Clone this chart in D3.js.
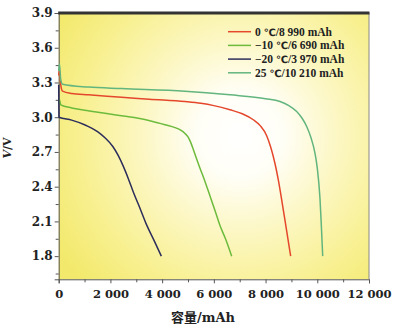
<!DOCTYPE html>
<html><head><meta charset="utf-8">
<script src="https://cdn.jsdelivr.net/npm/d3@7/dist/d3.min.js"></script>
<style>body{margin:0;background:#fff;}svg{display:block;}</style>
</head><body>
<script>
// ---- data ----
const xTickValues = [0, 2000, 4000, 6000, 8000, 10000, 12000];
const xTickLabels = ["0", "2 000", "4 000", "6 000", "8 000", "10 000", "12 000"];
const xMinorTicks = [1000, 3000, 5000, 7000, 9000, 11000];
const yTickValues = [1.8, 2.1, 2.4, 2.7, 3.0, 3.3, 3.6, 3.9];
const yTickLabels = ["1.8", "2.1", "2.4", "2.7", "3.0", "3.3", "3.6", "3.9"];
const yMinorTicks = [1.65, 1.95, 2.25, 2.55, 2.85, 3.15, 3.45, 3.75];
const seriesNames = ["0 ℃/8 990 mAh", "−10 ℃/6 690 mAh", "−20 ℃/3 970 mAh", "25 ℃/10 210 mAh"];
const seriesColors = ["#e4472c", "#6cbb3d", "#2d2d5c", "#62b57e"];
const cap0 = [0,3.36, 30,3.41, 80,3.28, 150,3.225, 500,3.205, 1145,3.193, 2436,3.173, 3500,3.155, 4884,3.135, 5500,3.12, 6000,3.10, 6625,3.064, 7100,3.03, 7525,2.978, 7800,2.925, 8043,2.84, 8200,2.74, 8364,2.60, 8500,2.45, 8650,2.25, 8800,2.04, 8971,1.80];
const capM10 = [0,3.12, 30,3.15, 80,3.107, 500,3.08, 1000,3.06, 1790,3.035, 2500,3.01, 3080,2.99, 3600,2.965, 4110,2.935, 4500,2.91, 4700,2.89, 4884,2.86, 5000,2.83, 5100,2.785, 5200,2.725, 5300,2.66, 5464,2.56, 5650,2.45, 5851,2.32, 6050,2.19, 6237,2.064, 6450,1.95, 6690,1.80];
const capM20 = [0,3.28, 10,3.0, 500,2.975, 1000,2.935, 1500,2.875, 1800,2.82, 2100,2.745, 2300,2.67, 2500,2.575, 2700,2.465, 2900,2.345, 3150,2.21, 3400,2.07, 3700,1.93, 3970,1.80];
const cap25 = [0,3.40, 30,3.46, 80,3.32, 150,3.285, 1145,3.26, 2436,3.247, 4884,3.225, 6625,3.193, 8000,3.16, 8560,3.135, 8900,3.10, 9203,3.05, 9400,2.995, 9590,2.92, 9760,2.82, 9910,2.69, 10000,2.56, 10104,2.30, 10160,2.05, 10210,1.80];
const seriesData = [cap0, capM10, capM20, cap25];

// ---- chart ----
const W = 404, H = 326;
const m = {l: 58.7, r: 35, t: 13, b: 46.7};
const svg = d3.select("body").append("svg").attr("width", W).attr("height", H);
const x = d3.scaleLinear().domain([0, 12000]).range([m.l, W - m.r]);
const y = d3.scaleLinear().domain([1.6, 3.9]).range([H - m.b, m.t]);

const defs = svg.append("defs");
const g = defs.append("radialGradient").attr("id", "bg").attr("gradientUnits", "userSpaceOnUse")
  .attr("cx", 240).attr("cy", 135).attr("r", 215);
[[0, "#ffffff"], [0.2, "#fffef6"], [0.45, "#fcf7c4"], [0.75, "#f8f090"], [1, "#f2e96c"]]
  .forEach(([o, c]) => g.append("stop").attr("offset", o).attr("stop-color", c));

svg.append("rect").attr("x", x(0)).attr("y", y(3.9)).attr("width", x(12000) - x(0))
  .attr("height", y(1.6) - y(3.9)).attr("fill", "url(#bg)");

const font = "'DejaVu Serif', serif";
// axes
const xAxis = d3.axisBottom(x).tickValues(xTickValues).tickFormat((d, i) => xTickLabels[i]).tickSize(4).tickPadding(7);
const xa = svg.append("g").attr("transform", `translate(0,${y(1.6)})`).call(xAxis);
xa.select(".domain").attr("stroke", "#555");
xa.selectAll(".tick line").attr("stroke", "#555");
xa.selectAll("text").attr("font-family", font).attr("font-weight", "bold").attr("font-size", 11.5).attr("fill", "#222");
const xm = svg.append("g").attr("transform", `translate(0,${y(1.6)})`)
  .call(d3.axisBottom(x).tickValues(xMinorTicks).tickFormat("").tickSize(3));
xm.select(".domain").remove();
xm.selectAll(".tick line").attr("stroke", "#555");

const yAxis = d3.axisLeft(y).tickValues(yTickValues).tickFormat((d, i) => yTickLabels[i]).tickSize(4).tickPadding(2);
const ya = svg.append("g").attr("transform", `translate(${x(0)},0)`).call(yAxis);
ya.select(".domain").attr("stroke", "#555");
ya.selectAll(".tick line").attr("stroke", "#555");
ya.selectAll("text").attr("font-family", font).attr("font-weight", "bold").attr("font-size", 12).attr("fill", "#222");
const ym = svg.append("g").attr("transform", `translate(${x(0)},0)`)
  .call(d3.axisLeft(y).tickValues(yMinorTicks).tickFormat("").tickSize(3));
ym.select(".domain").remove();
ym.selectAll(".tick line").attr("stroke", "#555");

// borders
svg.append("line").attr("x1", x(12000)).attr("x2", x(12000)).attr("y1", y(3.9)).attr("y2", y(1.6)).attr("stroke", "#888").attr("stroke-width", 1);
svg.append("line").attr("x1", x(0) - 0.5).attr("x2", x(12000) + 0.5).attr("y1", y(3.9)).attr("y2", y(3.9)).attr("stroke", "#333").attr("stroke-width", 3);

// curves
const line = d3.line().x(d => x(d[0])).y(d => y(d[1])).curve(d3.curveMonotoneX);
seriesData.forEach((arr, i) => {
  const pts = [];
  for (let k = 0; k < arr.length; k += 2) pts.push([arr[k], arr[k + 1]]);
  svg.append("path").attr("d", line(pts)).attr("fill", "none")
    .attr("stroke", seriesColors[i]).attr("stroke-width", 1.5);
});

// legend
const leg = svg.append("g");
seriesNames.forEach((n, i) => {
  const yy = 31.7 + i * 13.7;
  leg.append("line").attr("x1", 228).attr("x2", 251).attr("y1", yy).attr("y2", yy)
    .attr("stroke", seriesColors[i]).attr("stroke-width", 1.5);
  const parts = n.split("℃");
  const t = leg.append("text").attr("x", 255).attr("y", yy).attr("dy", "0.35em")
    .attr("font-family", "'Liberation Serif', serif").attr("font-weight", "bold").attr("font-size", 11.5).attr("fill", "#222");
  t.append("tspan").text(parts[0]);
  t.append("tspan").attr("font-family", "'DejaVu Sans'").attr("font-size", 10).text("℃");
  t.append("tspan").text(parts[1]);
});

// axis titles
svg.append("text").attr("x", 203).attr("y", 322).attr("text-anchor", "middle")
  .attr("font-family", "'DejaVu Serif','Noto Sans CJK SC',serif").attr("font-weight", "bold").attr("font-size", 13).attr("fill", "#222")
  .call(t => { t.append("tspan").attr("font-family", "'Noto Sans CJK SC'").text("容量"); t.append("tspan").text("/mAh"); });
svg.append("text").attr("transform", "translate(11,148) rotate(-90)").attr("text-anchor", "middle")
  .attr("font-family", font).attr("font-weight", "bold").attr("font-size", 11).attr("fill", "#222")
  .call(t => { t.append("tspan").attr("font-style", "italic").text("V"); t.append("tspan").text("/V"); });
</script>
</body></html>
